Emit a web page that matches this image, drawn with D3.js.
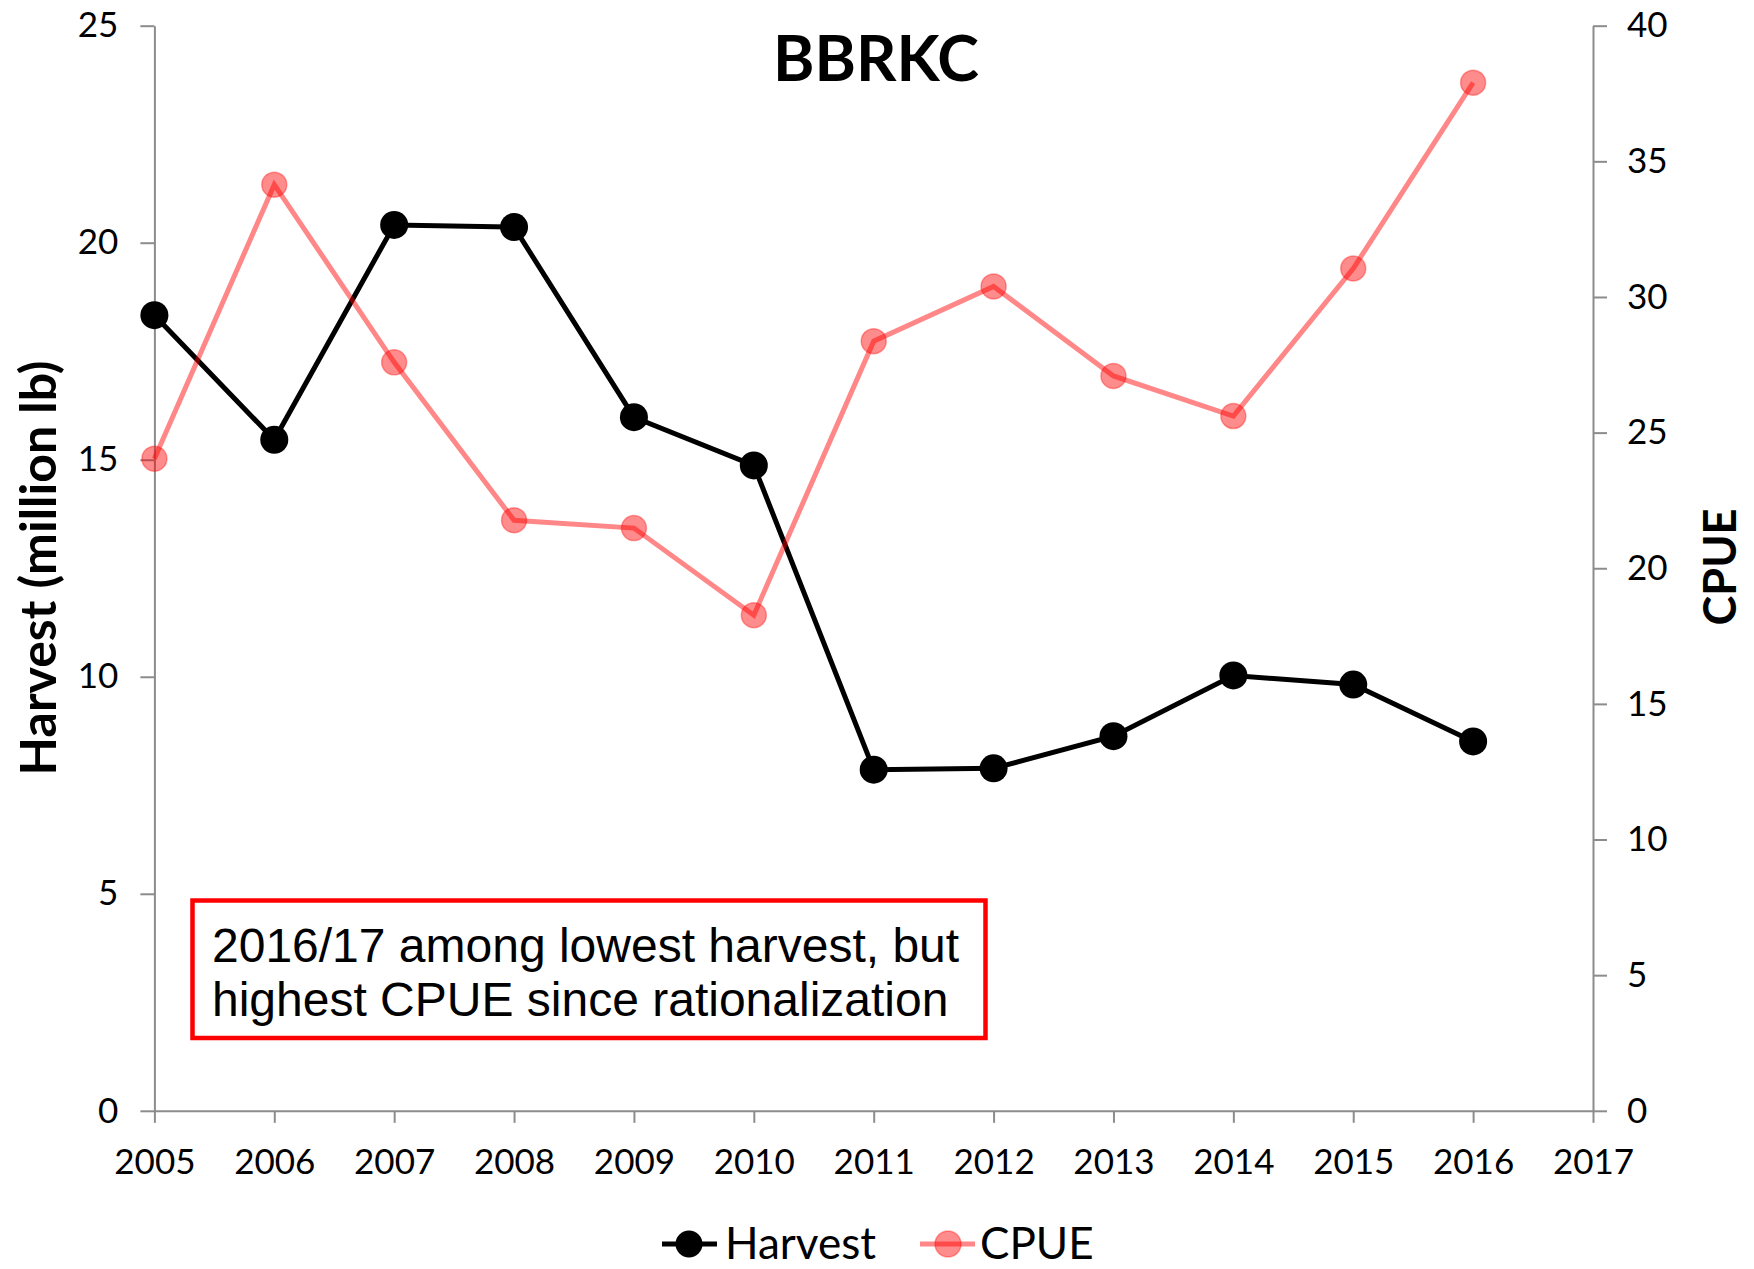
<!DOCTYPE html>
<html>
<head>
<meta charset="utf-8">
<script src="https://cdn.jsdelivr.net/npm/d3@7"></script>
<style>
  body { margin: 0; background: #fff; }
  svg { display: block; }
</style>
</head>
<body>
<div id="chart"></div>
<script>
var years = [2005, 2006, 2007, 2008, 2009, 2010, 2011, 2012, 2013, 2014, 2015, 2016];
var harvest = [18.33, 15.46, 20.41, 20.36, 15.98, 14.87, 7.86, 7.89, 8.63, 10.03, 9.82, 8.51];
var cpue = [24.04, 34.14, 27.59, 21.77, 21.48, 18.27, 28.37, 30.39, 27.09, 25.61, 31.05, 37.90];
var xTicks = [2005, 2006, 2007, 2008, 2009, 2010, 2011, 2012, 2013, 2014, 2015, 2016, 2017];
var leftTicks = [0, 5, 10, 15, 20, 25];
var rightTicks = [0, 5, 10, 15, 20, 25, 30, 35, 40];
var note = ["2016/17 among lowest harvest, but", "highest CPUE since rationalization"];

var width = 1754, height = 1269;
var margin = { top: 25.7, right: width - 1593, bottom: height - 1110.8, left: 154.4 };
var font = "Lato, 'Open Sans', sans-serif";
var axisColor = "#8c8c8c";

var svg = d3.select("#chart").append("svg")
    .attr("width", width)
    .attr("height", height)
    .attr("viewBox", [0, 0, width, height]);

var x = d3.scaleLinear()
    .domain([2005, 2017])
    .range([margin.left, width - margin.right]);

var yLeft = d3.scaleLinear()
    .domain([0, 25])
    .range([height - margin.bottom, margin.top]);

var yRight = d3.scaleLinear()
    .domain([0, 40])
    .range([height - margin.bottom, margin.top]);

function styleAxis(g) {
    g.select(".domain").attr("stroke", axisColor).attr("stroke-width", 2);
    g.selectAll(".tick line").attr("stroke", axisColor).attr("stroke-width", 2);
    g.selectAll(".tick text")
        .attr("fill", "#000")
        .style("font-family", font)
        .style("font-size", "35px");
}

// axes
svg.append("g")
    .attr("transform", `translate(0,${height - margin.bottom})`)
    .call(d3.axisBottom(x).tickValues(xTicks).tickFormat(d3.format("d"))
        .tickSize(12).tickSizeOuter(0).tickPadding(26))
    .call(styleAxis);

svg.append("g")
    .attr("transform", `translate(${margin.left},0)`)
    .call(d3.axisLeft(yLeft).tickValues(leftTicks).tickSize(14).tickSizeOuter(0).tickPadding(22))
    .call(styleAxis);

svg.append("g")
    .attr("transform", `translate(${width - margin.right},0)`)
    .call(d3.axisRight(yRight).tickValues(rightTicks).tickSize(14).tickSizeOuter(0).tickPadding(20))
    .call(styleAxis);

// title and axis labels
svg.append("text")
    .attr("x", 876)
    .attr("y", 56)
    .attr("text-anchor", "middle")
    .attr("dominant-baseline", "central")
    .style("font-family", font)
    .style("font-weight", "bold")
    .style("font-size", "63px")
    .text("BBRKC");

svg.append("text")
    .attr("transform", "translate(37,568) rotate(-90)")
    .attr("text-anchor", "middle")
    .attr("dominant-baseline", "central")
    .style("font-family", font)
    .style("font-weight", "bold")
    .style("font-size", "50px")
    .text("Harvest (million lb)");

svg.append("text")
    .attr("transform", "translate(1719,567) rotate(-90)")
    .attr("text-anchor", "middle")
    .attr("dominant-baseline", "central")
    .style("font-family", font)
    .style("font-weight", "bold")
    .style("font-size", "45px")
    .text("CPUE");

// series
var cpueLine = d3.line()
    .x((d, i) => x(years[i]))
    .y(d => yRight(d));

var harvestLine = d3.line()
    .x((d, i) => x(years[i]))
    .y(d => yLeft(d));

svg.append("path")
    .datum(harvest)
    .attr("fill", "none")
    .attr("stroke", "#000")
    .attr("stroke-width", 5)
    .attr("d", harvestLine);

svg.append("g")
    .selectAll("circle")
    .data(harvest)
    .join("circle")
    .attr("cx", (d, i) => x(years[i]))
    .attr("cy", d => yLeft(d))
    .attr("r", 14)
    .attr("fill", "#000");

svg.append("path")
    .datum(cpue)
    .attr("fill", "none")
    .attr("stroke", "#ff0000")
    .attr("stroke-opacity", 0.47)
    .attr("stroke-width", 5)
    .attr("d", cpueLine);

svg.append("g")
    .selectAll("circle")
    .data(cpue)
    .join("circle")
    .attr("cx", (d, i) => x(years[i]))
    .attr("cy", d => yRight(d))
    .attr("r", 12.5)
    .attr("fill", "#ff0000")
    .attr("fill-opacity", 0.45)
    .attr("stroke", "#ff0000")
    .attr("stroke-opacity", 0.35)
    .attr("stroke-width", 1.5);

// annotation box
var box = svg.append("g");
box.append("rect")
    .attr("x", 192.5)
    .attr("y", 900.5)
    .attr("width", 793)
    .attr("height", 137.5)
    .attr("fill", "#fff")
    .attr("stroke", "#ff0000")
    .attr("stroke-width", 4.5);

box.selectAll("text")
    .data(note)
    .join("text")
    .attr("x", 212)
    .attr("y", (d, i) => 962 + i * 53.5)
    .style("font-family", "'Liberation Sans', Arial, sans-serif")
    .style("font-size", "48px")
    .text(d => d);

// legend
var legend = svg.append("g").attr("transform", "translate(0,1244)");

legend.append("line")
    .attr("x1", 662).attr("x2", 717)
    .attr("stroke", "#000").attr("stroke-width", 5);
legend.append("circle")
    .attr("cx", 689).attr("r", 13.5).attr("fill", "#000");
legend.append("text")
    .attr("x", 725)
    .attr("y", -2)
    .attr("dominant-baseline", "central")
    .style("font-family", font)
    .style("font-size", "44px")
    .text("Harvest");

legend.append("line")
    .attr("x1", 920).attr("x2", 975)
    .attr("stroke", "#ff0000").attr("stroke-opacity", 0.47).attr("stroke-width", 5);
legend.append("circle")
    .attr("cx", 948).attr("r", 13)
    .attr("fill", "#ff0000").attr("fill-opacity", 0.45)
    .attr("stroke", "#ff0000").attr("stroke-opacity", 0.35).attr("stroke-width", 1.5);
legend.append("text")
    .attr("x", 980)
    .attr("y", -2)
    .attr("dominant-baseline", "central")
    .style("font-family", font)
    .style("font-size", "44px")
    .text("CPUE");
</script>
</body>
</html>
